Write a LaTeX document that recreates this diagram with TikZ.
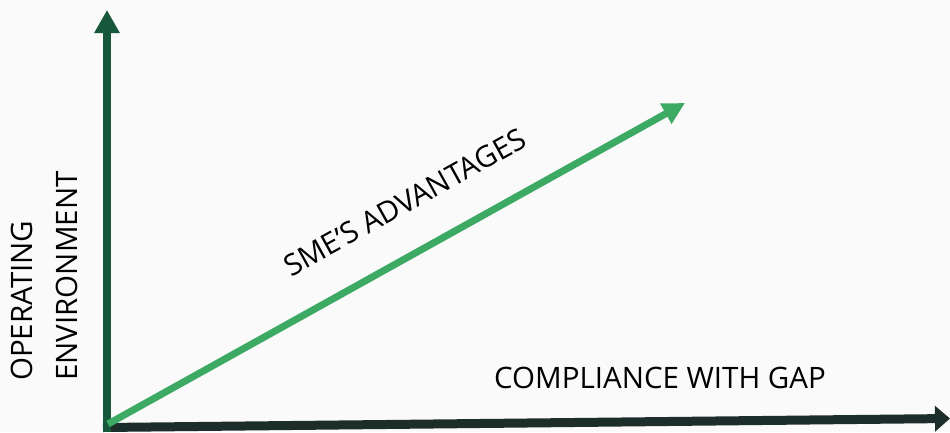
\documentclass[tikz,border=0pt]{standalone}
\usepackage{fontspec}
\setmainfont{Open Sans}
\usetikzlibrary{arrows.meta}
\definecolor{bgc}{HTML}{FAFAFB}
\definecolor{axisgreen}{HTML}{17573A}
\definecolor{axisdark}{HTML}{1D2D29}
\definecolor{lightgreen}{HTML}{3DAA63}
\tikzset{
  lbl/.style={inner sep=0pt, text=black, font=\fontsize{29.5}{45}\selectfont},
}
\begin{document}
\begin{tikzpicture}[x=1pt,y=-1pt]
\fill[bgc] (0,0) rectangle (950,432);
\useasboundingbox (0,0) rectangle (950,432);
\coordinate (ybot) at (107,432);
\coordinate (ytop) at (107,10);
\coordinate (xstart) at (103,427.5);
\coordinate (xend) at (950,418.5);
\coordinate (dstart) at (108,424);
\coordinate (dend) at (685,103);
\draw[axisdark, line width=9pt, -{Triangle[width=25pt,length=15pt]}] (xstart) -- (xend);
\draw[axisgreen, line width=8pt, -{Triangle[width=24pt,length=23pt]}] (ybot) -- (ytop);
\draw[lightgreen, line width=7pt, -{Triangle[width=22pt,length=22pt]}] (dstart) -- (dend);
\node[lbl] (xlab) at (660,378) {COMPLIANCE WITH GAP};
\node[lbl, rotate=29] (dlab) at (405,202) {SME’S ADVANTAGES};
\node[lbl, rotate=90, anchor=west, align=left] (ylab) at (44,381) {OPERATING\\ENVIRONMENT};
\end{tikzpicture}
\end{document}
